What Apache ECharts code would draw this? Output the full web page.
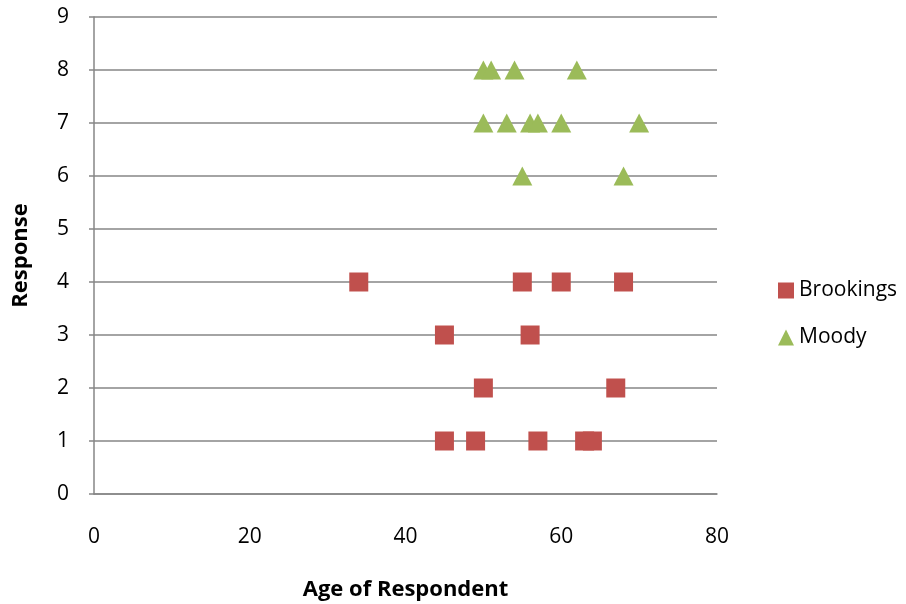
<!DOCTYPE html>
<html>
<head>
<meta charset="utf-8">
<script src="https://cdn.jsdelivr.net/npm/echarts@6/dist/echarts.min.js"></script>
<style>
  html, body { margin: 0; padding: 0; background: #fff; }
  #chart { width: 906px; height: 604px; }
</style>
</head>
<body>
<div id="chart"></div>
<script>
// Age of respondent vs. response, per group
const brookingsAge = [34, 55, 60, 68, 45, 56, 50, 67, 45, 49, 57, 63, 64];
const brookingsResponse = [4, 4, 4, 4, 3, 3, 2, 2, 1, 1, 1, 1, 1];
const moodyAge = [50, 51, 54, 62, 50, 53, 56, 57, 60, 70, 55, 68];
const moodyResponse = [8, 8, 8, 8, 7, 7, 7, 7, 7, 7, 6, 6];
const xTicks = [0, 20, 40, 60, 80];
const yTicks = [0, 1, 2, 3, 4, 5, 6, 7, 8, 9];

const FONT = '"Open Sans", "Liberation Sans", sans-serif';
const pairs = (xs, ys) => xs.map((x, i) => [x, ys[i]]);

const chart = echarts.init(document.getElementById('chart'), null, { renderer: 'canvas' });
chart.setOption({
  backgroundColor: '#ffffff',
  animation: false,
  textStyle: { fontFamily: FONT },
  grid: { left: 94, right: 189, top: 17, bottom: 110, containLabel: false, outerBoundsMode: 'none' },
  legend: {
    orient: 'vertical',
    left: 773,
    top: 275,
    itemWidth: 16,
    itemHeight: 16,
    itemGap: 26,
    textStyle: { fontFamily: FONT, fontSize: 21, color: '#000' },
    data: [
      { name: 'Brookings', icon: 'rect' },
      { name: 'Moody', icon: 'triangle' }
    ]
  },
  xAxis: {
    type: 'value',
    min: xTicks[0],
    max: xTicks[xTicks.length - 1],
    interval: 20,
    name: 'Age of Respondent',
    nameLocation: 'middle',
    nameGap: 85,
    nameTextStyle: { fontFamily: FONT, fontSize: 22, fontWeight: 'bold', color: '#000' },
    axisLine: { show: true, onZero: false, lineStyle: { color: '#868686', width: 1.5 } },
    axisTick: { show: false },
    splitLine: { show: false },
    axisLabel: { margin: 33, fontFamily: FONT, fontSize: 21, color: '#000' }
  },
  yAxis: {
    type: 'value',
    min: yTicks[0],
    max: yTicks[yTicks.length - 1],
    interval: 1,
    name: 'Response',
    nameLocation: 'middle',
    nameGap: 62,
    nameRotate: 90,
    nameTextStyle: { fontFamily: FONT, fontSize: 22, fontWeight: 'bold', color: '#000' },
    axisLine: { show: true, lineStyle: { color: '#868686', width: 1.5 } },
    axisTick: { show: true, length: 5, inside: false, lineStyle: { color: '#868686', width: 1.5 } },
    splitLine: { show: true, lineStyle: { color: '#868686', width: 1.5 } },
    axisLabel: { margin: 25, fontFamily: FONT, fontSize: 21, color: '#000' }
  },
  series: [
    {
      name: 'Brookings',
      type: 'scatter',
      symbol: 'rect',
      symbolSize: 19,
      itemStyle: { color: '#C0504D', opacity: 1 },
      data: pairs(brookingsAge, brookingsResponse)
    },
    {
      name: 'Moody',
      type: 'scatter',
      symbol: 'triangle',
      symbolSize: [20, 19],
      itemStyle: { color: '#9BBB59', opacity: 1 },
      data: pairs(moodyAge, moodyResponse)
    }
  ]
});
</script>
</body>
</html>
